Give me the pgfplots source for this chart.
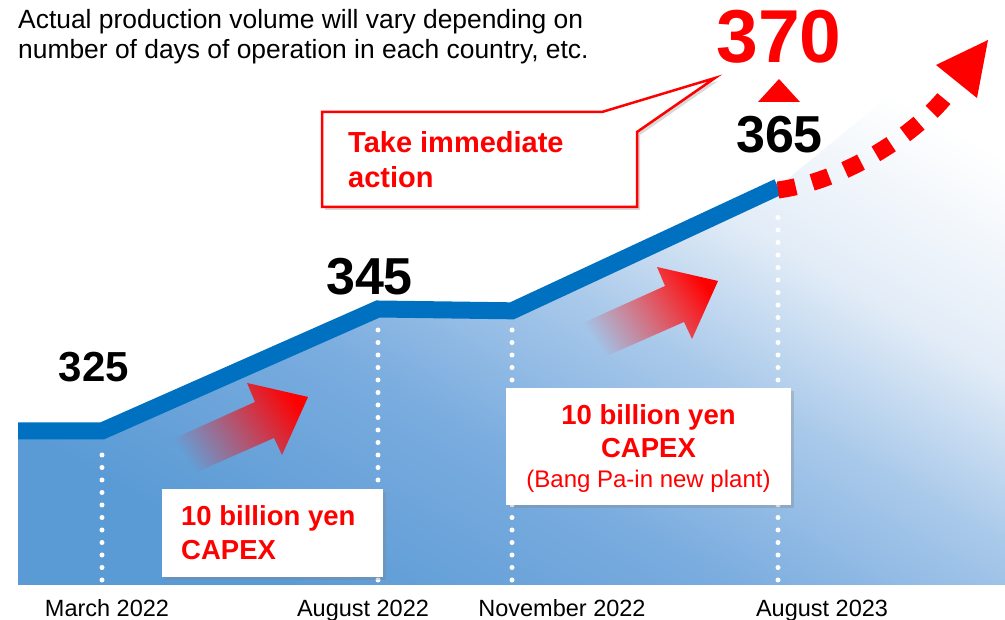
\documentclass[border=0pt]{standalone}
\usepackage{pgfplots}
\pgfplotsset{compat=1.18}
\usepackage{fontspec}
\setmainfont{Liberation Sans}
\usetikzlibrary{shadows,fadings}

\definecolor{lineblue}{HTML}{0070C0}
\definecolor{g0}{HTML}{5B9BD5}
\definecolor{g1}{HTML}{7AACDF}
\definecolor{g2}{HTML}{A9C9EA}
\definecolor{g3}{HTML}{E2ECF7}
\pgfdeclarehorizontalshading{bgshade}{100bp}{color(0bp)=(g0); color(25bp)=(g0); color(40bp)=(g1); color(52bp)=(g2); color(62bp)=(g3); color(75bp)=(white); color(100bp)=(white)}
\tikzfading[name=arrowfade, left color=transparent!100, middle color=transparent!0, right color=transparent!0]

\begin{document}
\begin{tikzpicture}
\useasboundingbox (0,0) rectangle (1005pt,620pt);
\begin{axis}[at={(0pt,35pt)}, anchor=south west, scale only axis,
  width=1005pt, height=585pt,
  xmin=0, xmax=1005, ymin=299.75, ymax=395.66,
  axis line style={draw=none}, major tick style={draw=none},
  ytick=\empty,
  xtick={107,363,562,822},
  xticklabels={March 2022, August 2022, November 2022, August 2023},
  xticklabel style={font=\fontsize{23.5}{24}\selectfont, text=black, anchor=base, yshift=-32pt}]
\addplot[draw=none, shading=bgshade, shading angle=60] coordinates {(18,299.75) (18,325) (102,325) (378,345) (512,344.7) (778,365) (1005,395.66) (1005,299.75)} -- cycle;
\addplot[lineblue, line width=17pt, mark=none] coordinates {(18,325) (102,325) (378,345) (512,344.7) (778,365)};
\end{axis}

\begin{scope}[x=1pt, y=-1pt, yshift=620pt]
% dotted guides
\foreach \xx/\ya in {102/447, 378/322, 512/322, 778/206}
  \draw[white, line width=5pt, line cap=round, dash pattern=on 0pt off 12.5pt] (\xx,580) -- (\xx,\ya);
% gradient arrows
\fill[red, path fading=arrowfade, fading angle=25] (173,439) -- (255,402) -- (247,383) -- (308,397) -- (282,455) -- (274,438) -- (190,475) -- cycle;
\begin{scope}[shift={(410,-116)}]
\fill[red, path fading=arrowfade, fading angle=25] (173,439) -- (255,402) -- (247,383) -- (308,397) -- (282,455) -- (274,438) -- (190,475) -- cycle;
\end{scope}
% boxes
\fill[white, drop shadow={shadow xshift=3pt, shadow yshift=-3pt, opacity=0.3}] (162,489) rectangle (383,577);
\node[anchor=base west, inner sep=0, text=red, font=\bfseries\fontsize{27.5}{30}\selectfont] at (181,526) {10 billion yen};
\node[anchor=base west, inner sep=0, text=red, font=\bfseries\fontsize{27.5}{30}\selectfont] at (181,560) {CAPEX};
\fill[white, drop shadow={shadow xshift=3pt, shadow yshift=-3pt, opacity=0.3}] (506,388) rectangle (791,505);
\node[anchor=base, inner sep=0, text=red, font=\bfseries\fontsize{27.5}{30}\selectfont] at (648.5,425) {10 billion yen};
\node[anchor=base, inner sep=0, text=red, font=\bfseries\fontsize{27.5}{30}\selectfont] at (648.5,458) {CAPEX};
\node[anchor=base, inner sep=0, text=red, font=\fontsize{24}{26}\selectfont] at (648.5,488) {(Bang Pa-in new plant)};
% callout
\draw[red, line width=2.5pt, fill=white, line join=miter, drop shadow={shadow xshift=3pt, shadow yshift=-3pt, opacity=0.3}] (322,112) -- (602,112) -- (715,78) -- (637,132) -- (637,207) -- (322,207) -- cycle;
\node[anchor=base west, inner sep=0, text=red, font=\bfseries\fontsize{29}{30}\selectfont] at (348,153) {Take immediate};
\node[anchor=base west, inner sep=0, text=red, font=\bfseries\fontsize{29}{30}\selectfont] at (348,188) {action};
% red dotted forecast
\draw[red, line width=17pt, dash pattern=on 18pt off 17pt] (778,190) .. controls (850,180) and (919,130) .. (946,96);
\fill[red] (936,65) -- (988,40) -- (977,98) -- cycle;
\fill[red] (758,102) -- (800,102) -- (779,79) -- cycle;
% numbers
\node[anchor=base, inner sep=0, text=red, font=\bfseries\fontsize{75}{80}\selectfont] at (779,63) {370};
\node[anchor=base, inner sep=0, font=\bfseries\fontsize{52}{56}\selectfont] at (779.5,153) {365};
\node[anchor=base, inner sep=0, font=\bfseries\fontsize{52}{56}\selectfont] at (369.5,295) {345};
\node[anchor=base, inner sep=0, font=\bfseries\fontsize{42}{46}\selectfont] at (94,382) {325};
% note
\node[anchor=base west, inner sep=0, font=\fontsize{26.4}{30}\selectfont] at (18,29) {Actual production volume will vary depending on};
\node[anchor=base west, inner sep=0, font=\fontsize{26.4}{30}\selectfont] at (18,59) {number of days of operation in each country, etc.};
\end{scope}
\end{tikzpicture}
\end{document}
